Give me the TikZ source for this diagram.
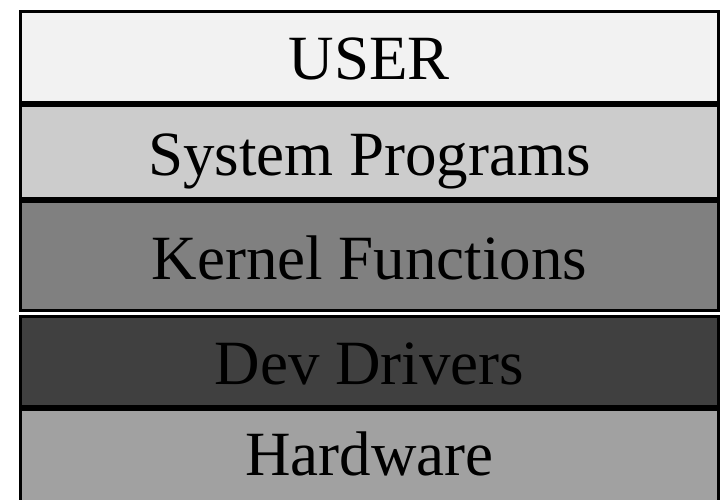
\documentclass[tikz,border=0pt]{standalone}
\usepackage{fontspec}
\setmainfont{Liberation Serif}
\usetikzlibrary{positioning}

\begin{document}
\begin{tikzpicture}[x=1pt,y=1pt,node distance=3pt,
  layer/.style={draw,line width=3pt,outer sep=0pt,inner sep=0pt,
    minimum width=698pt,text height=46pt,text depth=0pt,
    font=\fontsize{63}{70}\selectfont}]

  \clip (0,0) rectangle (725,-500);

  \node[layer,fill=black!5,minimum height=91pt,anchor=north west] (user) at (20.5,-11.5) {USER};
  \node[layer,fill=black!20,minimum height=93pt] (sysprog) [below=of user] {System Programs};
  \node[layer,fill=black!50,minimum height=109pt] (kernel) [below=of sysprog] {Kernel Functions};
  \node[layer,fill=black!75,minimum height=90pt] (devdrv) [below=5.5pt of kernel] {Dev Drivers};
  \node[layer,fill=black!37,minimum height=111pt,text depth=25pt] (hw) [below=of devdrv] {Hardware};
\end{tikzpicture}
\end{document}
